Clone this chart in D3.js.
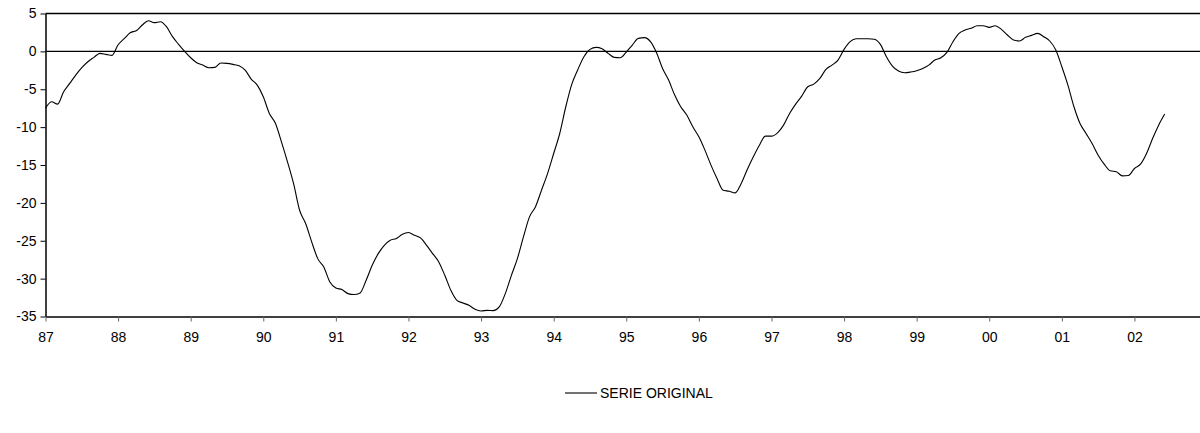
<!DOCTYPE html>
<html>
<head>
<meta charset="utf-8">
<script src="https://cdn.jsdelivr.net/npm/d3@7"></script>
<style>
  html, body { margin: 0; padding: 0; background: #fff; }
  svg { display: block; font-family: "Liberation Sans", Arial, sans-serif; }
</style>
</head>
<body>
<svg id="chart" width="1200" height="433"></svg>
<script>
// Monthly series, Jan 1987 .. Jun 2002
const serieOriginal = [
  -7.5, -6.65, -6.96, -5.33, -4.23, -3.13, -2.16, -1.37, -0.79, -0.26, -0.40, -0.53,
  0.88, 1.67, 2.47, 2.73, 3.48, 4.05, 3.79, 3.92, 3.26, 1.94, 0.93, 0.0,
  -0.84, -1.50, -1.81, -2.16, -2.11, -1.54, -1.59, -1.72, -1.89, -2.47, -3.66, -4.45,
  -5.99, -8.19, -9.5, -11.94, -14.58, -17.44, -20.97, -22.73, -25.15, -27.36, -28.46, -30.44,
  -31.23, -31.45, -31.98, -32.1, -31.89, -30.22, -28.24, -26.7, -25.6, -24.93, -24.71, -24.14,
  -23.92, -24.27, -24.63, -25.6, -26.7, -27.8, -29.56, -31.54, -32.86, -33.22, -33.52, -34.05,
  -34.27, -34.19, -34.23, -33.74, -31.98, -29.6, -27.36, -24.5, -21.85, -20.5, -18.3, -16.1,
  -13.48, -10.84, -7.31, -4.32, -2.38, -0.7, 0.26, 0.53, 0.35, -0.26, -0.79, -0.84,
  -0.09, 0.84, 1.72, 1.81, 1.28, -0.18, -2.25, -3.79, -5.77, -7.31, -8.41, -9.96,
  -11.28, -13.04, -15.02, -16.78, -18.33, -18.46, -18.68, -17.44, -15.6, -13.92, -12.38, -11.19,
  -11.19, -10.75, -9.74, -8.19, -6.96, -5.9, -4.67, -4.32, -3.57, -2.38, -1.81, -1.15,
  0.26, 1.28, 1.67, 1.67, 1.67, 1.59, 0.93, -0.7, -1.94, -2.6, -2.82, -2.73,
  -2.56, -2.25, -1.81, -1.15, -0.84, -0.13, 1.28, 2.38, 2.82, 3.04, 3.39, 3.39,
  3.17, 3.39, 2.91, 2.16, 1.5, 1.37, 1.85, 2.11, 2.38, 1.94, 1.37, 0.18,
  -2.03, -4.45, -7.31, -9.52, -10.84, -12.16, -13.7, -14.89, -15.77, -15.9, -16.43, -16.39,
  -15.46, -14.89, -13.48, -11.5, -9.74, -8.28
];
const yearLabels = ["87","88","89","90","91","92","93","94","95","96","97","98","99","00","01","02"];
const yTickValues = [5, 0, -5, -10, -15, -20, -25, -30, -35];
const seriesName = "SERIE ORIGINAL";

(function () {
const svg = d3.select("#chart");
const mLeft = 45.5, mRight = 1201, mTop = 13.5, mBottom = 316.5;

const x = d3.scaleLinear().domain([0, 191]).range([mLeft, mRight]);
const y = d3.scaleLinear().domain([-35, 5]).range([mBottom, mTop]);

// top border
svg.append("line").attr("x1", mLeft).attr("x2", 1200).attr("y1", mTop).attr("y2", mTop)
  .attr("stroke", "#000").attr("stroke-width", 1.5);

// zero line
svg.append("line").attr("x1", mLeft).attr("x2", 1200).attr("y1", y(0)).attr("y2", y(0))
  .attr("stroke", "#000").attr("stroke-width", 1.2);

// Y axis
const yAxis = d3.axisLeft(y).tickValues(yTickValues).tickSize(5).tickSizeOuter(0).tickPadding(4)
  .tickFormat(d => d);
const gy = svg.append("g").attr("transform", `translate(${mLeft},0)`).call(yAxis);
gy.select(".domain").attr("stroke", "#000").attr("stroke-width", 1.5);
gy.selectAll(".tick line").attr("stroke", "#000");
gy.selectAll(".tick text").attr("font-size", 14).attr("font-family", "Liberation Sans, Arial, sans-serif").attr("fill", "#000");

// X axis
const xTicks = yearLabels.map((d, i) => i * 12);
const xAxis = d3.axisBottom(x).tickValues(xTicks).tickSize(5).tickSizeOuter(0).tickPadding(11)
  .tickFormat((d, i) => yearLabels[i]);
const gx = svg.append("g").attr("transform", `translate(0,${mBottom})`).call(xAxis);
gx.select(".domain").attr("stroke", "#000").attr("stroke-width", 1.5);
gx.selectAll(".tick line").attr("stroke", "#666");
gx.selectAll(".tick text").attr("font-size", 14).attr("font-family", "Liberation Sans, Arial, sans-serif").attr("fill", "#000");

// series line
const line = d3.line().x((d, i) => x(i)).y(d => y(d)).curve(d3.curveMonotoneX);
svg.append("path").datum(serieOriginal).attr("d", line)
  .attr("fill", "none").attr("stroke", "#000").attr("stroke-width", 1.1);

// legend
const lg = svg.append("g").attr("transform", "translate(565,393)");
lg.append("line").attr("x1", 0).attr("x2", 32).attr("y1", 0).attr("y2", 0)
  .attr("stroke", "#000").attr("stroke-width", 1.1);
lg.append("text").attr("x", 35).attr("y", 5).attr("font-size", 14)
  .attr("font-family", "Liberation Sans, Arial, sans-serif").text(seriesName);
})();
</script>
</body>
</html>
